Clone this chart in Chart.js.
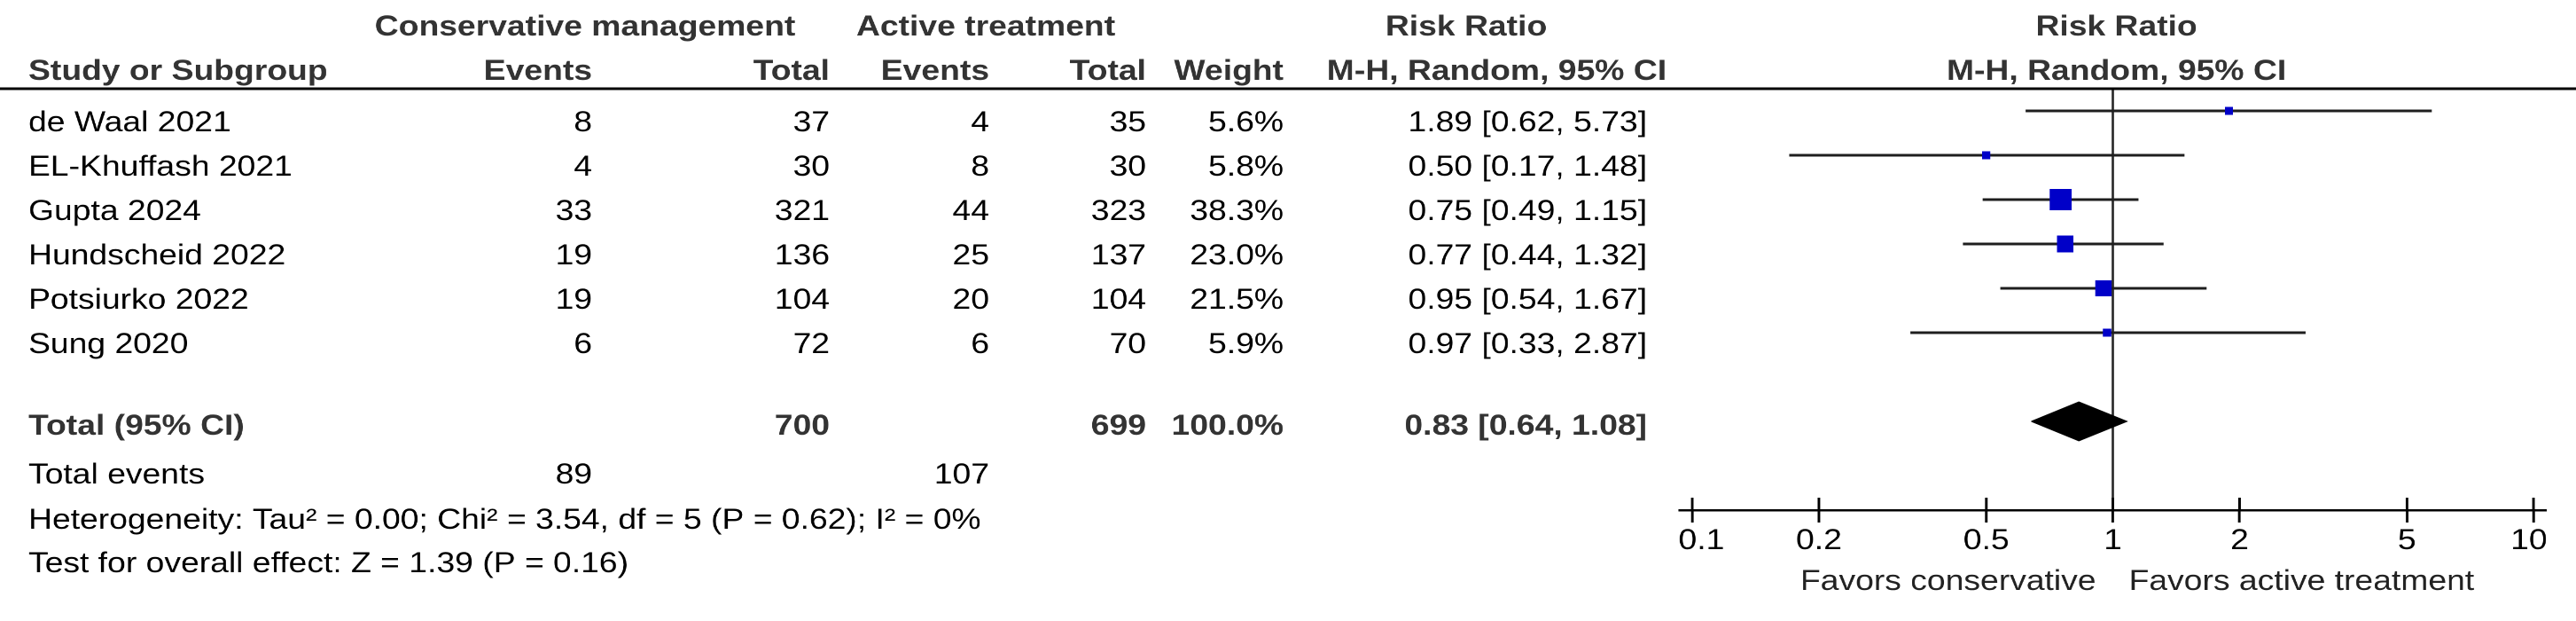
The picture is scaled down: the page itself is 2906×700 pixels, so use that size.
<!DOCTYPE html>
<html>
<head>
<meta charset="utf-8">
<script src="https://cdn.jsdelivr.net/npm/chart.js@4.4.1/dist/chart.umd.min.js"></script>
<style>
  html, body { margin: 0; padding: 0; background: #fff; overflow: hidden; }
  #wrap { width: 2494px; height: 700px; transform: scaleX(1.16520); transform-origin: 0 0; }
  canvas { display: block; }
</style>
</head>
<body>
<div id="wrap"><canvas id="c" width="2494" height="700"></canvas></div>
<script>
// ---------------- data ----------------
const studies      = ['de Waal 2021', 'EL-Khuffash 2021', 'Gupta 2024', 'Hundscheid 2022', 'Potsiurko 2022', 'Sung 2020'];
const consEvents   = [8, 4, 33, 19, 19, 6];
const consTotal    = [37, 30, 321, 136, 104, 72];
const activeEvents = [4, 8, 44, 25, 20, 6];
const activeTotal  = [35, 30, 323, 137, 104, 70];
const weights      = [5.6, 5.8, 38.3, 23.0, 21.5, 5.9];
const riskRatio    = [1.89, 0.50, 0.75, 0.77, 0.95, 0.97];
const ciLow        = [0.62, 0.17, 0.49, 0.44, 0.54, 0.33];
const ciHigh       = [5.73, 1.48, 1.15, 1.32, 1.67, 2.87];
const pooledRR     = 0.83;
const pooledLow    = 0.64;
const pooledHigh   = 1.08;
const totalCons    = 700;
const totalActive  = 699;
const totalWeight  = 100.0;
const totalEventsCons   = 89;
const totalEventsActive = 107;
const tickValues   = [0.1, 0.2, 0.5, 1, 2, 5, 10];
const heterogeneityText = 'Heterogeneity: Tau\u00b2 = 0.00; Chi\u00b2 = 3.54, df = 5 (P = 0.62); I\u00b2 = 0%';
const overallText  = 'Test for overall effect: Z = 1.39 (P = 0.16)';
const favorsLeft   = 'Favors conservative';
const favorsRight  = 'Favors active treatment';

// ---------------- layout / style ----------------
const S = 2906 / 2494;              // horizontal stretch of the whole picture
const FONT = "'Liberation Sans', Arial, Helvetica, sans-serif";
const FS = 32;
const SQUARE_K = 3.9;               // square side (px) per sqrt(weight)
const DIAMOND_HALF = 0.44;          // half height of the diamond in rows
const SUMMARY_ROW = 8;

function squareImage(w) {
  const side = SQUARE_K * Math.sqrt(w);
  const c = document.createElement('canvas');
  c.width = Math.max(2, Math.round(side / S));
  c.height = Math.max(2, Math.round(side));
  const g = c.getContext('2d');
  g.fillStyle = '#0000c8';
  g.fillRect(0, 0, c.width, c.height);
  return c;
}
const squareImages = weights.map(squareImage);

const datasets = [];
studies.forEach((s, i) => {
  datasets.push({
    type: 'line', label: s + ' CI',
    data: [{ x: ciLow[i], y: i + 1 }, { x: ciHigh[i], y: i + 1 }],
    borderColor: '#1e1e1e', borderWidth: 3, pointRadius: 0, order: 3, clip: false
  });
});
datasets.push({
  type: 'scatter', label: 'RR',
  data: riskRatio.map((v, i) => ({ x: v, y: i + 1 })),
  pointStyle: ctx => squareImages[ctx.dataIndex],
  pointRadius: 10, showLine: false, order: 0
});
datasets.push({
  type: 'line', label: 'Total',
  data: [
    { x: pooledLow, y: SUMMARY_ROW },
    { x: pooledRR, y: SUMMARY_ROW - DIAMOND_HALF },
    { x: pooledHigh, y: SUMMARY_ROW },
    { x: pooledRR, y: SUMMARY_ROW + DIAMOND_HALF },
    { x: pooledLow, y: SUMMARY_ROW }
  ],
  borderColor: '#000', backgroundColor: '#000', borderWidth: 1,
  fill: 'shape', pointRadius: 0, tension: 0, order: 1
});
datasets.push({
  type: 'line', label: 'no effect',
  data: [{ x: 1, y: 0.5 }, { x: 1, y: 10 }],
  borderColor: '#2a2a2a', borderWidth: 2.2, pointRadius: 0, order: 4
});

const tablePlugin = {
  id: 'table',
  afterDraw(chart) {
    const ctx = chart.ctx;
    const xs = chart.scales.x, ys = chart.scales.y;
    const L = v => v / S;
    ctx.save();
    // header separator
    ctx.strokeStyle = '#000';
    ctx.lineWidth = 3;
    ctx.beginPath(); ctx.moveTo(0, 100); ctx.lineTo(chart.width, 100); ctx.stroke();
    // upper halves of tick marks
    ctx.lineWidth = 2.5;
    xs.ticks.forEach(t => {
      const px = xs.getPixelForValue(t.value);
      ctx.beginPath(); ctx.moveTo(px, xs.top - 14); ctx.lineTo(px, xs.top); ctx.stroke();
    });

    ctx.textBaseline = 'alphabetic';
    function txt(s, x, y, align, bold, color) {
      ctx.font = (bold ? 'bold ' : '') + FS + 'px ' + FONT;
      ctx.fillStyle = color || (bold ? '#333' : '#000');
      ctx.textAlign = align;
      ctx.fillText(s, x, y);
    }
    const cLeft = L(32), cEv = L(668), cTot = L(936), aEv = L(1116), aTot = L(1293),
          cW = L(1448), cCI = L(1858), cCIh = L(1880);
    // headers
    txt('Conservative management', L(660), 40, 'center', true);
    txt('Active treatment', L(1112), 40, 'center', true);
    txt('Risk Ratio', L(1654), 40, 'center', true);
    const px1 = xs.getPixelForValue(1) + L(4);
    txt('Risk Ratio', px1, 40, 'center', true);
    txt('Study or Subgroup', cLeft, 90, 'left', true);
    txt('Events', cEv, 90, 'right', true);
    txt('Total', cTot, 90, 'right', true);
    txt('Events', aEv, 90, 'right', true);
    txt('Total', aTot, 90, 'right', true);
    txt('Weight', cW, 90, 'right', true);
    txt('M-H, Random, 95% CI', cCIh, 90, 'right', true);
    txt('M-H, Random, 95% CI', px1, 90, 'center', true);
    // study rows
    studies.forEach((s, i) => {
      const yb = ys.getPixelForValue(i + 1) + 23;
      txt(s, cLeft, yb, 'left');
      txt(String(consEvents[i]), cEv, yb, 'right');
      txt(String(consTotal[i]), cTot, yb, 'right');
      txt(String(activeEvents[i]), aEv, yb, 'right');
      txt(String(activeTotal[i]), aTot, yb, 'right');
      txt(weights[i].toFixed(1) + '%', cW, yb, 'right');
      txt(riskRatio[i].toFixed(2) + ' [' + ciLow[i].toFixed(2) + ', ' + ciHigh[i].toFixed(2) + ']', cCI, yb, 'right');
    });
    // total row
    const yt = ys.getPixelForValue(SUMMARY_ROW) + 15;
    txt('Total (95% CI)', cLeft, yt, 'left', true);
    txt(String(totalCons), cTot, yt, 'right', true);
    txt(String(totalActive), aTot, yt, 'right', true);
    txt(totalWeight.toFixed(1) + '%', cW, yt, 'right', true);
    txt(pooledRR.toFixed(2) + ' [' + pooledLow.toFixed(2) + ', ' + pooledHigh.toFixed(2) + ']', cCI, yt, 'right', true);
    txt('Total events', cLeft, 545, 'left');
    txt(String(totalEventsCons), cEv, 545, 'right');
    txt(String(totalEventsActive), aEv, 545, 'right');
    txt(heterogeneityText, cLeft, 596, 'left');
    txt(overallText, cLeft, 645, 'left');
    // favours labels
    const p1 = xs.getPixelForValue(1);
    txt(favorsLeft, p1 - L(19), 665, 'right', false, '#222');
    txt(favorsRight, p1 + L(18), 665, 'left', false, '#222');
    ctx.restore();
  }
};

new Chart(document.getElementById('c'), {
  data: { datasets },
  options: {
    responsive: false,
    devicePixelRatio: 2,
    animation: false,
    events: [],
    layout: { padding: { left: 1895 / S, right: 2494 - 2872 / S, top: 100, bottom: 65 } },
    plugins: { legend: { display: false }, tooltip: { enabled: false } },
    scales: {
      x: {
        type: 'logarithmic',
        position: 'bottom',
        min: 0.0934, max: 10.70,
        bounds: 'data',
        afterBuildTicks: axis => { axis.ticks = tickValues.map(v => ({ value: v })); },
        afterFit: axis => { axis.height = 60; },
        border: { display: true, color: '#000', width: 2.5 },
        grid: { display: true, drawOnChartArea: false, drawTicks: true, tickLength: 14, tickWidth: 2.5, tickColor: '#000' },
        ticks: {
          autoSkip: false, maxRotation: 0, padding: 2,
          color: '#000',
          font: { family: FONT, size: FS, lineHeight: 1.2 },
          callback: v => {
            if (v === 0.1) return '  0.1';
            if (v === 10) return '10 ';
            return String(v);
          }
        }
      },
      y: {
        type: 'linear', display: false, reverse: true, min: 0.5, max: 10
      }
    }
  },
  plugins: [tablePlugin]
});
</script>
</body>
</html>
